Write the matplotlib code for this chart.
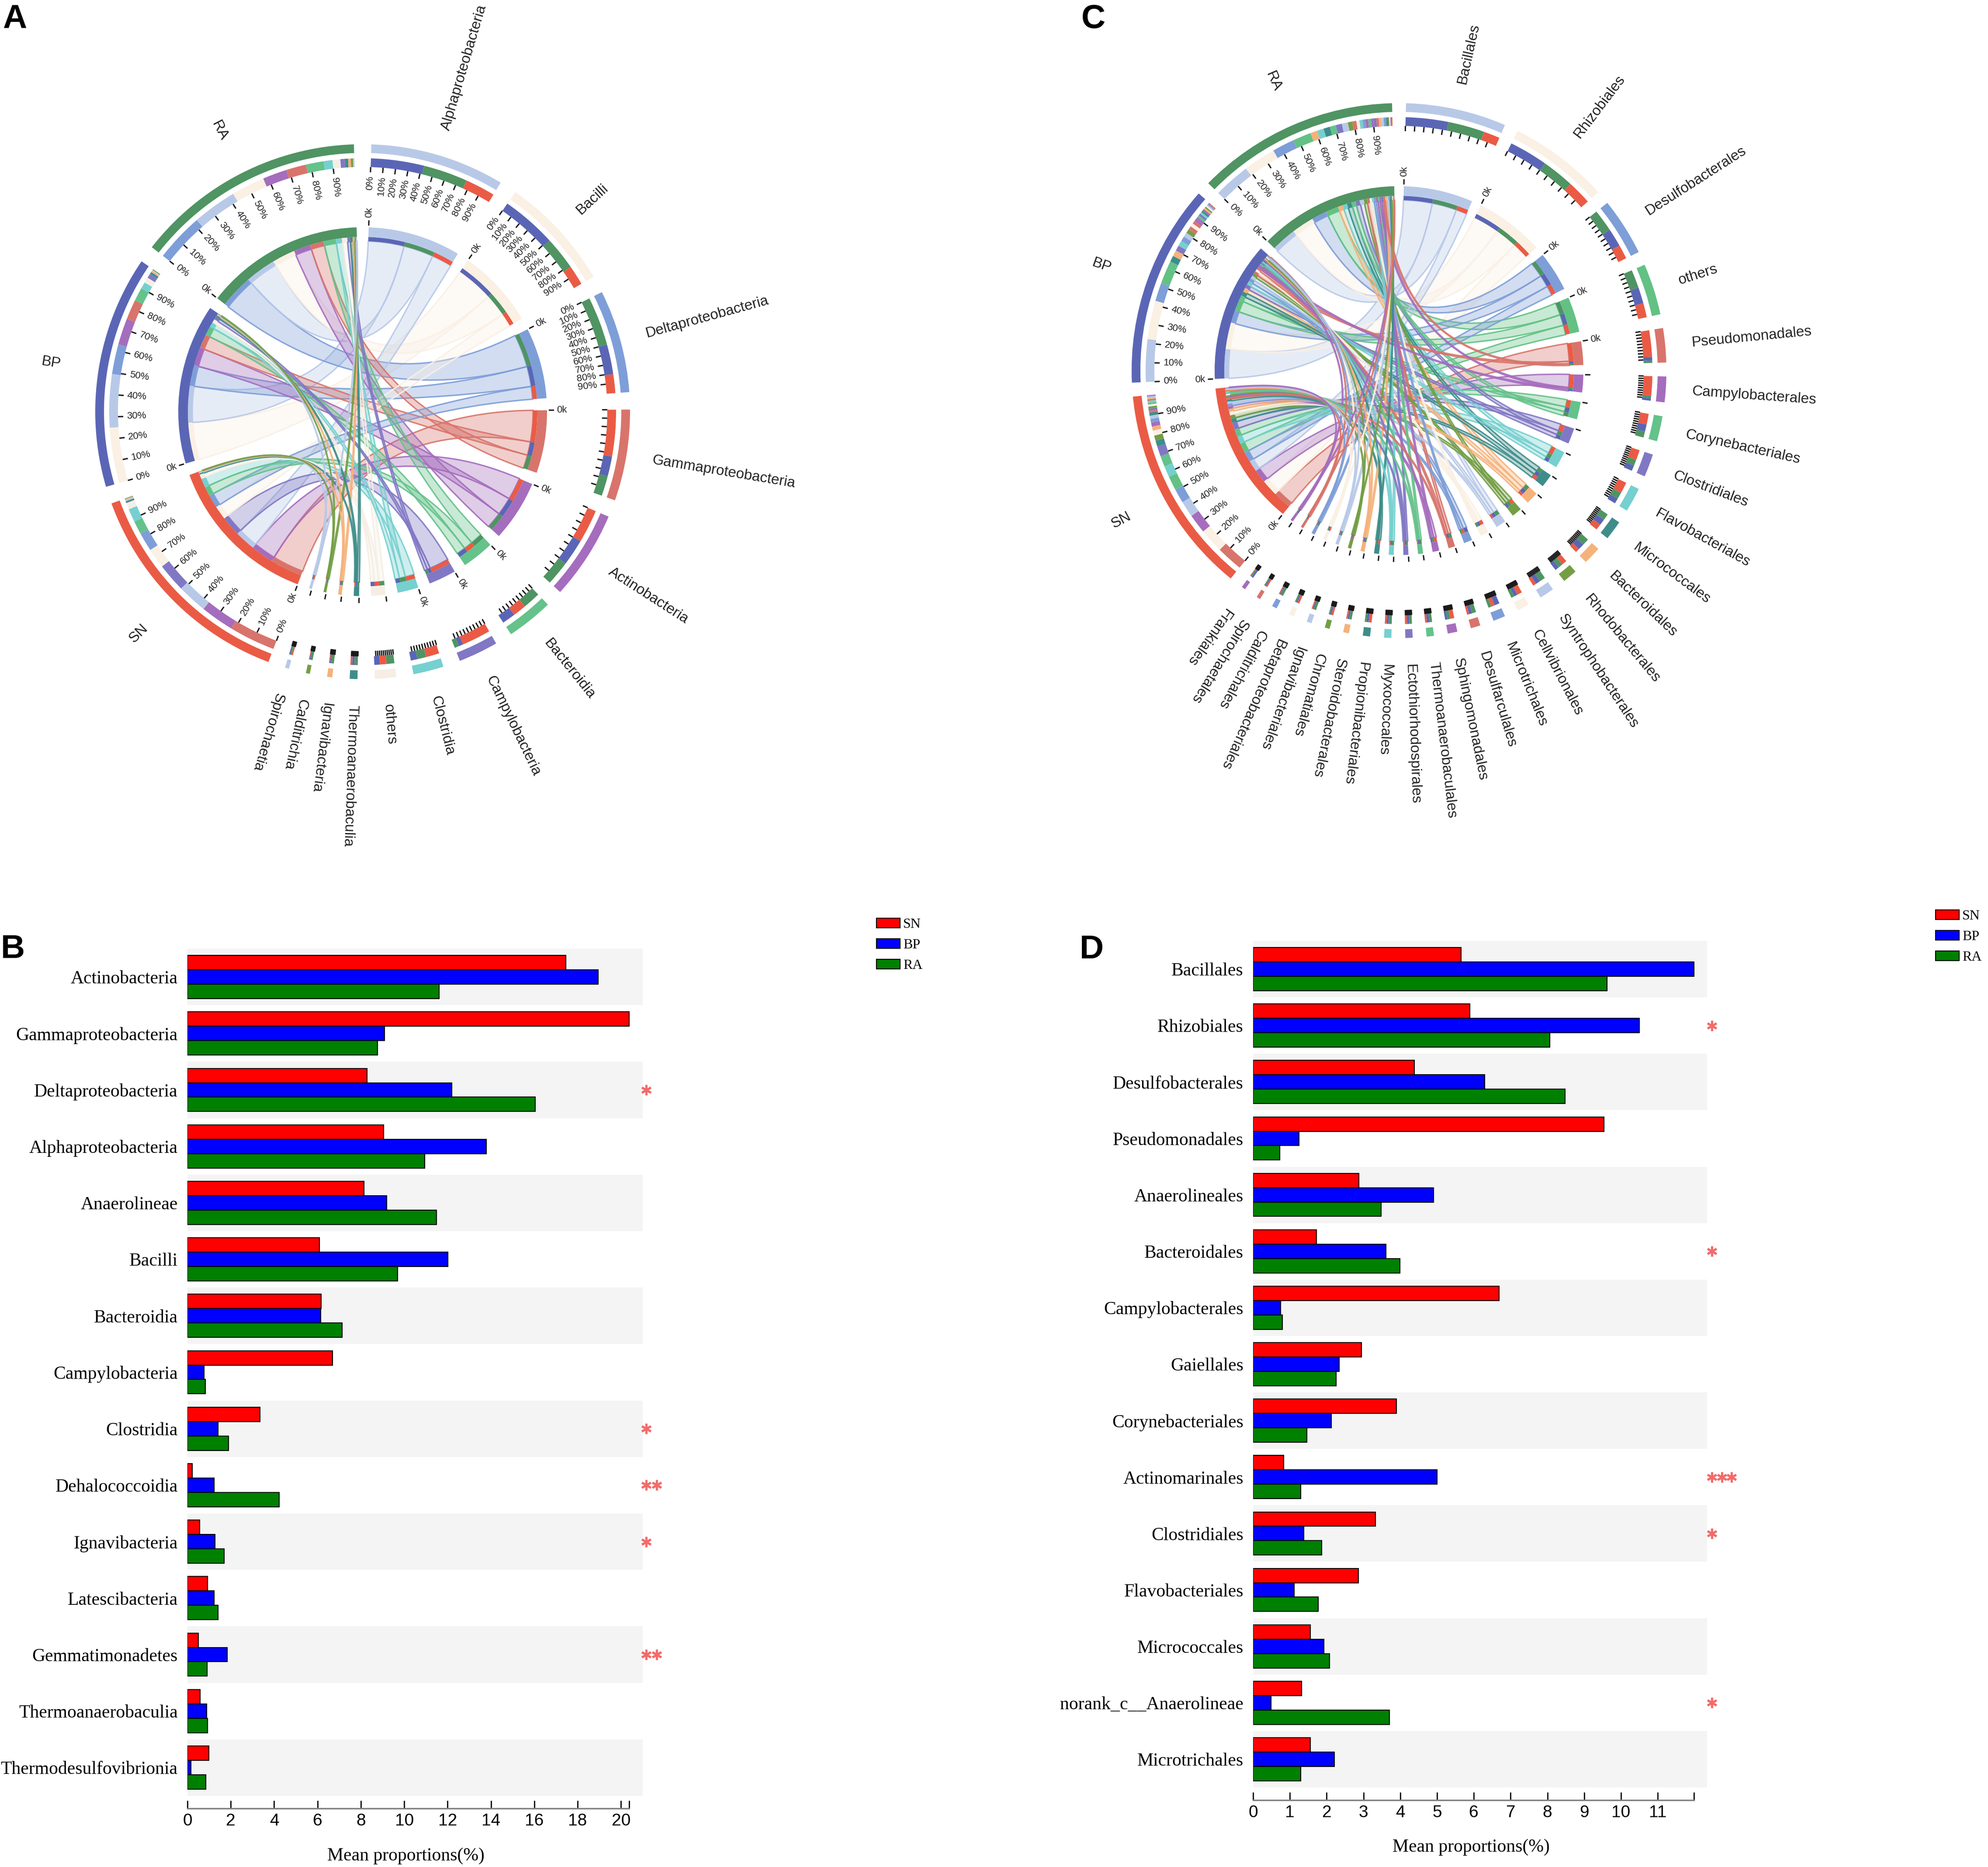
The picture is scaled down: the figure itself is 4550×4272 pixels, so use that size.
import numpy as np
import matplotlib
matplotlib.use('Agg')
import matplotlib.pyplot as plt
from matplotlib.path import Path
from matplotlib.patches import PathPatch, Wedge, Patch
from matplotlib.colors import to_rgba

W, H, DPI = 4550, 4272, 100

groups = ['SN', 'BP', 'RA']
group_colors = ['#EA5B45', '#5A66B5', '#4F9462']
palette = ['#B8C9E8', '#FAF0E4', '#7E9ED8', '#D8746B', '#A56DBD', '#64C28A',
           '#8078C4', '#75D0CF', '#3E8D8A', '#F5B27B', '#739E45']

# ---- panel A: class level, % of reads in each group ----
a_taxa = ['Alphaproteobacteria', 'Bacilli', 'Deltaproteobacteria', 'Gammaproteobacteria',
          'Actinobacteria', 'Bacteroidia', 'Campylobacteria', 'Clostridia', 'others',
          'Thermoanaerobaculia', 'Ignavibacteria', 'Calditrichia', 'Spirochaetia']
a_sn = [13.5, 9, 8.5, 21, 15, 6, 13, 6, 3, 0.8, 0.4, 0.3, 0.6]
a_bp = [24, 25, 13.5, 9, 12, 6, 2, 3, 2.5, 1.0, 0.6, 0.4, 0.5]
a_ra = [20, 15, 22, 9, 11, 8, 2, 4, 3.5, 1.5, 1.2, 1.0, 0.6]

# ---- panel C: order level ----
c_taxa = ['Bacillales', 'Rhizobiales', 'Desulfobacterales', 'others', 'Pseudomonadales',
          'Campylobacterales', 'Corynebacteriales', 'Clostridiales', 'Flavobacteriales',
          'Micrococcales', 'Bacteroidales', 'Rhodobacterales', 'Syntrophobacterales',
          'Cellvibrionales', 'Microtrichales', 'Desulfarculales', 'Sphingomonadales',
          'Thermoanaerobaculales', 'Ectothiorhodospirales', 'Myxococcales',
          'Propionibacteriales', 'Steroidobacterales', 'Chromatiales', 'Ignavibacteriales',
          'Betaproteobacteriales', 'Calditrichales', 'Spirochaetales', 'Frankiales']
c_sn = [8, 12, 7, 7, 13, 9.5, 5.3, 5, 5.5, 2.9, 2, 2.6, 1.6, 2.5, 1.8, 1, 2, 0.9, 1.0,
        0.9, 1.5, 0.7, 1.0, 0.5, 1.0, 0.5, 0.8, 0.3]
c_bp = [21, 19, 9, 8, 1.8, 1.2, 3.5, 2.7, 2.6, 3, 3, 2, 2.2, 1.7, 2.5, 1.5, 1.1, 1.1, 1.1,
        1.0, 1.0, 0.8, 0.7, 0.6, 0.7, 0.6, 0.6, 0.9]
c_ra = [18, 16, 11, 9, 1.2, 1.3, 3, 3, 3.3, 3.2, 3.4, 2.2, 3, 1.5, 1.4, 2, 1.4, 1.4, 1.3,
        1.5, 0.9, 1.2, 0.6, 1.2, 0.6, 1.2, 0.4, 0.6]

# ---- panel B ----
b_cats = ['Actinobacteria', 'Gammaproteobacteria', 'Deltaproteobacteria', 'Alphaproteobacteria',
          'Anaerolineae', 'Bacilli', 'Bacteroidia', 'Campylobacteria', 'Clostridia',
          'Dehalococcoidia', 'Ignavibacteria', 'Latescibacteria', 'Gemmatimonadetes',
          'Thermoanaerobaculia', 'Thermodesulfovibrionia']
b_sn = [17.45, 20.37, 8.29, 9.05, 8.15, 6.08, 6.17, 6.70, 3.34, 0.23, 0.57, 0.93, 0.51, 0.59, 0.99]
b_bp = [18.95, 9.08, 12.19, 13.78, 9.19, 12.02, 6.14, 0.76, 1.41, 1.22, 1.27, 1.22, 1.84, 0.88, 0.17]
b_ra = [11.60, 8.77, 16.04, 10.95, 11.49, 9.70, 7.13, 0.82, 1.90, 4.24, 1.70, 1.41, 0.91, 0.93, 0.85]
b_sig = ['', '', '*', '', '', '', '', '', '*', '**', '*', '', '**', '', '']
b_ticks = list(range(0, 21, 2))

# ---- panel D ----
d_cats = ['Bacillales', 'Rhizobiales', 'Desulfobacterales', 'Pseudomonadales', 'Anaerolineales',
          'Bacteroidales', 'Campylobacterales', 'Gaiellales', 'Corynebacteriales',
          'Actinomarinales', 'Clostridiales', 'Flavobacteriales', 'Micrococcales',
          'norank_c__Anaerolineae', 'Microtrichales']
d_sn = [5.65, 5.89, 4.38, 9.54, 2.88, 1.72, 6.69, 2.95, 3.89, 0.83, 3.32, 2.86, 1.56, 1.32, 1.56]
d_bp = [11.98, 10.50, 6.30, 1.25, 4.90, 3.61, 0.75, 2.34, 2.13, 5.00, 1.38, 1.12, 1.92, 0.49, 2.21]
d_ra = [9.62, 8.07, 8.48, 0.73, 3.48, 3.99, 0.80, 2.26, 1.46, 1.29, 1.87, 1.77, 2.08, 3.71, 1.29]
d_sig = ['', '*', '', '', '', '*', '', '', '', '***', '*', '', '', '*', '']
d_ticks = list(range(0, 12))

# radii of the chord rings, in pixels
R_LINK, R_STRIP, R_BAND = 390, 400, 422
R_OK_TICK = (426, 438)
R_PCT_TXT = 540
R_PCT_TICK = (548, 560)
R_RING = (560, 580)
R_OUTER = (592, 612)
R_LABEL = 672
R_GROUP_LABEL = 722

fig = plt.figure(figsize=(W / DPI, H / DPI), dpi=DPI)
plt.rcParams['font.family'] = ['Liberation Sans', 'DejaVu Sans']
bg = fig.add_axes([0, 0, 1, 1])
bg.set_xlim(0, W)
bg.set_ylim(0, H)
bg.axis('off')


def pt(cx, cy, r, th):
    t = np.radians(th)
    return cx + r * np.cos(t), cy + r * np.sin(t)


def arc(cx, cy, r, t1, t2):
    n = max(int(abs(t2 - t1) * 3) + 2, 3)
    ts = np.radians(np.linspace(t1, t2, n))
    return np.column_stack([cx + r * np.cos(ts), cy + r * np.sin(ts)])


def ring(ax, cx, cy, r_in, r_out, t1, t2, color, z=3):
    lo, hi = min(t1, t2), max(t1, t2)
    ax.add_patch(Wedge((cx, cy), r_out, lo, hi, width=r_out - r_in,
                       facecolor=color, edgecolor='none', lw=0, zorder=z))


def ribbon(ax, cx, cy, a1, a2, b1, b2, color):
    p = arc(cx, cy, R_LINK, a1, a2)
    q = arc(cx, cy, R_LINK, b1, b2)
    verts = list(map(tuple, p)) + [(cx, cy), tuple(q[0])] + list(map(tuple, q[1:])) \
        + [(cx, cy), tuple(p[0]), tuple(p[0])]
    codes = [Path.MOVETO] + [Path.LINETO] * (len(p) - 1) + [Path.CURVE3, Path.CURVE3] \
        + [Path.LINETO] * (len(q) - 1) + [Path.CURVE3, Path.CURVE3, Path.CLOSEPOLY]
    ax.add_patch(PathPatch(Path(verts, codes), facecolor=to_rgba(color, 0.35),
                           edgecolor=to_rgba(color, 0.9), lw=2.4, zorder=1))


def tick(ax, cx, cy, th, r0, r1):
    x0, y0 = pt(cx, cy, r0, th)
    x1, y1 = pt(cx, cy, r1, th)
    ax.plot([x0, x1], [y0, y1], color='#1A1A1A', lw=2.2, solid_capstyle='butt', zorder=4)


def rtext(ax, cx, cy, r, th, s, size, outward=True, flip=True):
    x, y = pt(cx, cy, r, th)
    left = np.cos(np.radians(th)) < 0
    if flip and left:
        rot, ha = th - 180, ('right' if outward else 'left')
    else:
        rot, ha = th, ('left' if outward else 'right')
    ax.text(x, y, s, rotation=rot, ha=ha, va='center', rotation_mode='anchor',
            fontsize=size, color='#222222', zorder=5)


def taxon_colors(taxa, others_color):
    cols, k = [], 0
    for t in taxa:
        if t == 'others':
            cols.append(others_color)
        else:
            cols.append(palette[k % len(palette)])
            k += 1
    return cols


def chord(ax, cx, cy, taxa, mat, tcols, gap, pct_min, ok_min):
    mat = np.array(mat, dtype=float)
    n = len(taxa)
    names = list(taxa) + groups
    cols = list(tcols) + group_colors
    sizes = list(mat.sum(axis=0)) + list(mat.sum(axis=1))
    dpu = (360 - gap * len(sizes)) / sum(sizes)
    spans, cur = [], 90 - gap / 2
    for s in sizes:
        spans.append((cur, cur - s * dpu))
        cur -= s * dpu + gap

    pieces = []
    for j in range(n):
        order = np.argsort(-mat[:, j], kind='stable')
        pieces.append([(n + g, mat[g, j], group_colors[g]) for g in order])
    for g in range(3):
        order = np.argsort(-mat[g], kind='stable')
        pieces.append([(j, mat[g, j], tcols[j]) for j in order])

    slots = {}
    for k, (t0, t1) in enumerate(spans):
        c = t0
        for partner, v, col in pieces[k]:
            slots[(k, partner)] = (c, c - v * dpu)
            c -= v * dpu

    links = sorted(((mat[g, j], g, j) for g in range(3) for j in range(n)), reverse=True)
    for v, g, j in links:
        a1, a2 = slots[(n + g, j)]
        b1, b2 = slots[(j, n + g)]
        ribbon(ax, cx, cy, a1, a2, b1, b2, tcols[j])

    for k, (t0, t1) in enumerate(spans):
        span = t0 - t1
        for partner, v, col in pieces[k]:
            s0, s1 = slots[(k, partner)]
            ring(ax, cx, cy, R_LINK, R_STRIP, s1, s0, col)
        ring(ax, cx, cy, R_STRIP, R_BAND, t1, t0, cols[k])
        tick(ax, cx, cy, t0, *R_OK_TICK)
        if span >= ok_min:
            rtext(ax, cx, cy, R_OK_TICK[1] + 6, t0, '0k', 16, outward=True)
        for p in range(0, 100, 10):
            th = t0 - span * p / 100
            tick(ax, cx, cy, th, *R_PCT_TICK)
            if span >= pct_min:
                rtext(ax, cx, cy, R_PCT_TXT, th, f'{p}%', 16, outward=False)
        c = t0
        tot = sum(v for _, v, _ in pieces[k])
        for partner, v, col in pieces[k]:
            w = span * v / tot
            ring(ax, cx, cy, R_RING[0], R_RING[1], c - w, c, col)
            c -= w
        ring(ax, cx, cy, R_OUTER[0], R_OUTER[1], t1, t0, cols[k])
        mid = (t0 + t1) / 2
        if k >= n:
            x, y = pt(cx, cy, R_GROUP_LABEL, mid)
            ax.text(x, y, names[k], rotation=mid - 180, ha='center', va='center',
                    rotation_mode='anchor', fontsize=24, color='#222222')
        else:
            rtext(ax, cx, cy, R_LABEL, mid, names[k], 24, outward=True, flip=False)


chord(bg, 830, H - 942, a_taxa, [a_sn, a_bp, a_ra],
      taxon_colors(a_taxa, '#F6EEE4'), 3.75, 21, 6.5)
chord(bg, 3202, H - 848, c_taxa, [c_sn, c_bp, c_ra],
      taxon_colors(c_taxa, '#63C184'), 3.0, 30, 6.5)

serif = 'Liberation Serif'


def bar_panel(left_px, right_px, top_px, bottom_px, cats, sn, bp, ra, sig, xmax, ticks,
              star_x, star_dx, legend_xy):
    ax = fig.add_axes([left_px / W, 1 - bottom_px / H, (right_px - left_px) / W,
                       (bottom_px - top_px) / H])
    ax.set_facecolor('none')
    n = len(cats)
    y = np.arange(n)
    for i in range(0, n, 2):
        ax.axhspan(i - 0.5, i + 0.5, color='#F4F4F4', lw=0, zorder=0)
    h = 0.255
    handles = []
    for vals, off, col, lab in ((sn, -h, '#FF0000', 'SN'), (bp, 0, '#0000FF', 'BP'),
                                (ra, h, '#008000', 'RA')):
        ax.barh(y + off, vals, height=h, color=col, edgecolor='black', linewidth=1.6, zorder=2)
        handles.append(Patch(facecolor=col, edgecolor='black', linewidth=1.6, label=lab))
    vmax = max(max(sn), max(bp), max(ra))
    ax.set_xlim(0, xmax)
    ax.set_ylim(n - 0.5, -0.5)
    ax.set_yticks(y, cats)
    ax.set_xticks(list(ticks) + [vmax], [str(t) for t in ticks] + [''])
    for lab in ax.get_yticklabels() + ax.get_xticklabels():
        lab.set_fontfamily(serif)
    ax.tick_params(axis='y', length=0, pad=16, labelsize=30)
    ax.tick_params(axis='x', direction='in', length=13, width=2.0, pad=8, labelsize=28)
    for s in ('top', 'right', 'left'):
        ax.spines[s].set_visible(False)
    sp = ax.spines['bottom']
    sp.set_position(('outward', 21))
    sp.set_bounds(0, vmax)
    sp.set_color('#808080')
    sp.set_linewidth(2.5)
    for i, s in enumerate(sig):
        for k in range(len(s)):
            ax.plot(star_x + k * star_dx, i, marker=(6, 2, 0), ms=17, mew=3.5,
                    color='#F26B6B', clip_on=False, zorder=5)
    ax.set_xlabel('Mean proportions(%)', fontfamily=serif, fontsize=30)
    ax.xaxis.set_label_coords(0.48, -118 / (bottom_px - top_px))
    fig.legend(handles=handles, loc='upper left',
               bbox_to_anchor=(legend_xy[0] / W, 1 - legend_xy[1] / H),
               frameon=False, borderpad=0, borderaxespad=0, handlelength=1.7,
               handleheight=0.7, handletextpad=0.2, labelspacing=0.55,
               prop={'family': serif, 'size': 23})
    return ax


bar_panel(429, 1471, 2171, 4109, b_cats, b_sn, b_bp, b_ra, b_sig, 21.0, b_ticks,
          21.17, 0.48, (2006, 2101))
bar_panel(2868, 3907, 2153, 4090, d_cats, d_sn, d_bp, d_ra, d_sig, 12.34, d_ticks,
          12.47, 0.27, (4430, 2082))

for letter, x, y in (('A', 6, 64), ('C', 2475, 64), ('B', 2, 2192), ('D', 2471, 2193)):
    fig.text(x / W, 1 - y / H, letter, fontsize=55, fontweight='bold', ha='left',
             va='baseline', family=['Liberation Sans', 'DejaVu Sans'])

fig.savefig('out.png', dpi=DPI, facecolor='white')
